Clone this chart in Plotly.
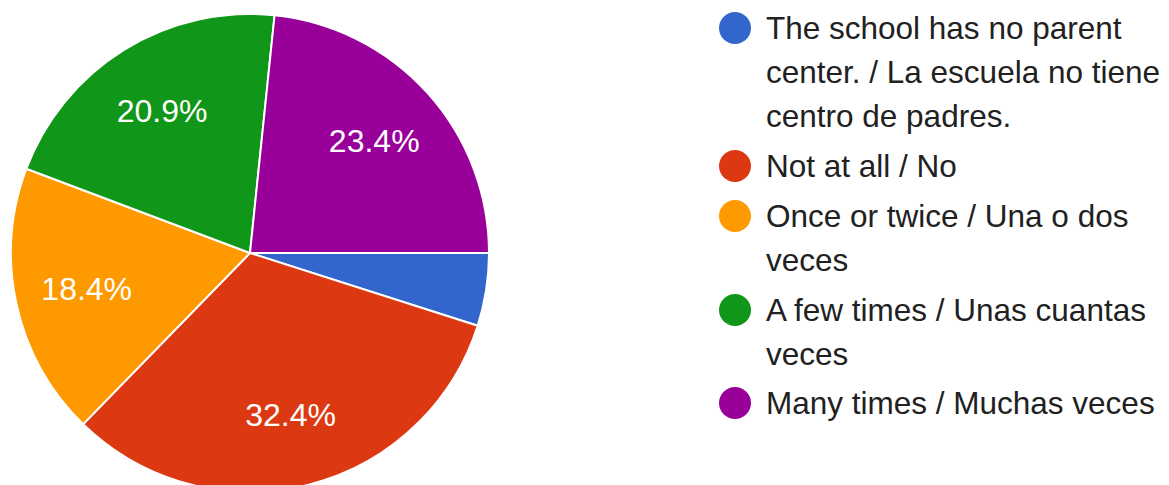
import plotly.graph_objects as go

# ---- data ----
categories = [
    "The school has no parent center. / La escuela no tiene centro de padres.",
    "Not at all / No",
    "Once or twice / Una o dos veces",
    "A few times / Unas cuantas veces",
    "Many times / Muchas veces",
]
legend_lines = [
    ["The school has no parent", "center. / La escuela no tiene", "centro de padres."],
    ["Not at all / No"],
    ["Once or twice / Una o dos", "veces"],
    ["A few times / Unas cuantas", "veces"],
    ["Many times / Muchas veces"],
]
counts = [12, 79, 45, 51, 57]
colors = ["#3366cc", "#dc3912", "#ff9900", "#109618", "#990099"]

W, H = 1169, 485
OFF = 8  # page body margin
FONT = "Liberation Sans, Arial, sans-serif"
total = sum(counts)
slice_text = [("" if c / total < 0.05 else f"{100 * c / total:.1f}%") for c in counts]

pie_domain = dict(x=[3 / W, 481 / W], y=[1 - 484 / H, 1 - 6 / H])

fig = go.Figure()
# filled slices
fig.add_trace(go.Pie(
    labels=categories, values=counts,
    textinfo="none", sort=False, direction="clockwise", rotation=90,
    marker=dict(colors=colors, line=dict(color="white", width=2)),
    domain=pie_domain, showlegend=False, hoverinfo="label+percent",
))
# percentage labels, placed in an outer ring so they sit away from the centre
fig.add_trace(go.Pie(
    labels=categories, values=counts, hole=0.4,
    text=slice_text, textinfo="text", textposition="inside",
    insidetextorientation="horizontal",
    sort=False, direction="clockwise", rotation=90,
    marker=dict(colors=["rgba(0,0,0,0)"] * len(counts), line=dict(width=0)),
    textfont=dict(family=FONT, size=32, color="white"),
    domain=pie_domain, showlegend=False, hoverinfo="skip",
))

# custom legend (circles + text lines)
item_first_baseline = [38, 176, 226, 320, 413]
line_step = 44
shapes, annotations = [], []
for i, lines in enumerate(legend_lines):
    b0 = item_first_baseline[i] - OFF
    cy = b0 - 10
    shapes.append(dict(
        type="circle", xref="paper", yref="paper",
        x0=(719 - OFF) / W, x1=(751 - OFF) / W,
        y0=1 - (cy + 16) / H, y1=1 - (cy - 16) / H,
        fillcolor=colors[i], line=dict(width=0),
    ))
    for j, ln in enumerate(lines):
        b = b0 + j * line_step
        annotations.append(dict(
            text=ln, xref="paper", yref="paper", x=(766.7 - OFF - 3) / W, y=1 - (b - 10) / H,
            xanchor="left", yanchor="middle", showarrow=False,
            font=dict(family=FONT, size=31.5, color="#212121"),
        ))

fig.update_layout(
    width=W, height=H,
    margin=dict(l=0, r=0, t=0, b=0),
    paper_bgcolor="white", plot_bgcolor="white",
    shapes=shapes, annotations=annotations,
)

fig.write_html("out.html")
